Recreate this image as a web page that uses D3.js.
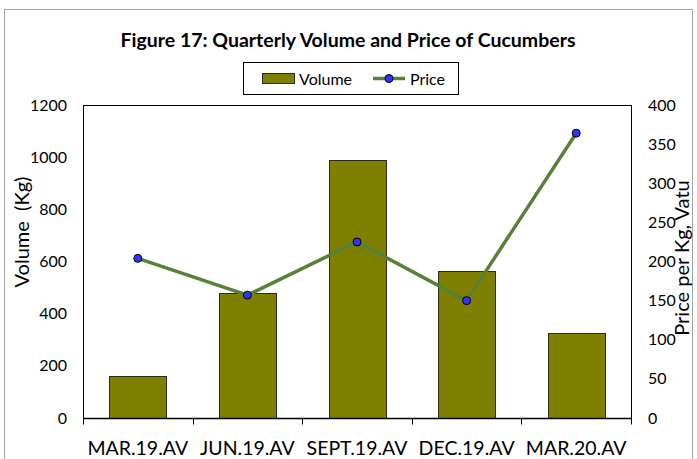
<!DOCTYPE html>
<html>
<head>
<meta charset="utf-8">
<script src="https://cdn.jsdelivr.net/npm/d3@7"></script>
<style>
	body { margin: 0; background: #fff; }
	text { font-family: Lato, "Open Sans", sans-serif; fill: #000; white-space: pre; }
	.chartTitle { font-weight: bold; font-size: 19.5px; }
	.tickText { font-size: 16px; }
	.catText { font-size: 19.5px; }
	.axisTitle { font-size: 20px; }
	.legendText { font-size: 16px; }
</style>
</head>
<body>
<div id="chart"><svg width="697" height="459"></svg></div>
<script>
// data
const categories = ["MAR.19.AV", "JUN.19.AV", "SEPT.19.AV", "DEC.19.AV", "MAR.20.AV"];
const volume = [160, 481, 990, 562, 325];
const price = [204, 157, 225, 150, 364];
const volumeTicks = [0, 200, 400, 600, 800, 1000, 1200];
const priceTicks = [0, 50, 100, 150, 200, 250, 300, 350, 400];

const data = categories.map((c, i) => ({cat: c, volume: volume[i], price: price[i]}));

// setup
const width = 697;
const height = 459;
const margin = {top: 105, right: 66, bottom: 40, left: 83};
const plotWidth = width - margin.left - margin.right;
const plotHeight = height - margin.top - margin.bottom - 1;

const svg = d3.select("#chart").select("svg");

// outer chart border
svg.append("rect")
	.attr("x", 4.5).attr("y", 9.5)
	.attr("width", 688).attr("height", 460)
	.attr("fill", "none")
	.attr("stroke", "#a6a6a6");

// scales
const xScale = d3.scaleBand()
	.domain(categories)
	.range([0, plotWidth])
	.paddingInner(0.48)
	.paddingOuter(0.24);

const yScale = d3.scaleLinear()
	.domain([0, 1200])
	.range([plotHeight, 0]);

const y2Scale = d3.scaleLinear()
	.domain([0, 400])
	.range([plotHeight, 0]);

const plot = svg.append("g")
	.attr("transform", `translate(${margin.left}, ${margin.top})`);

// plot frame
plot.append("rect")
	.attr("x", 0.5).attr("y", 0.5)
	.attr("width", plotWidth).attr("height", plotHeight)
	.attr("fill", "none")
	.attr("stroke", "#000");

// bars
plot.selectAll(".bar")
  .data(data)
	.enter()
  .append("rect")
	.attr("class", "bar")
	.attr("x", d => Math.round(xScale(d.cat)) + 0.5)
	.attr("y", d => Math.round(yScale(d.volume)) + 0.5)
	.attr("width", xScale.bandwidth())
	.attr("height", d => plotHeight - Math.round(yScale(d.volume)))
	.attr("fill", "#808000")
	.attr("stroke", "#2b2b1a");

// x axis (ticks between categories)
const xAxis = plot.append("g")
	.attr("transform", `translate(0, ${plotHeight + 0.5})`);

xAxis.append("line")
	.attr("x1", 0).attr("x2", plotWidth + 1)
	.attr("stroke", "#000").attr("stroke-width", 1.5);

xAxis.selectAll(".xTick")
  .data(d3.range(categories.length + 1))
	.enter()
  .append("line")
	.attr("x1", i => Math.round(i * plotWidth / categories.length) + 0.5)
	.attr("x2", i => Math.round(i * plotWidth / categories.length) + 0.5)
	.attr("y1", 0).attr("y2", 6)
	.attr("stroke", "#000");

xAxis.selectAll(".catText")
  .data(categories)
	.enter()
  .append("text")
	.attr("class", "catText")
	.attr("x", d => xScale(d) + xScale.bandwidth() / 2)
	.attr("y", 36)
	.attr("text-anchor", "middle")
	.text(d => d);

// left axis labels
plot.selectAll(".yTick")
  .data(volumeTicks)
	.enter()
  .append("text")
	.attr("class", "tickText")
	.attr("x", -16)
	.attr("y", d => yScale(d))
	.attr("dy", "0.35em")
	.attr("text-anchor", "end")
	.text(d => d);

// right axis labels
plot.selectAll(".y2Tick")
  .data(priceTicks)
	.enter()
  .append("text")
	.attr("class", "tickText")
	.attr("x", plotWidth + 17)
	.attr("y", d => y2Scale(d))
	.attr("dy", "0.35em")
	.attr("text-anchor", "start")
	.text(d => d);

// axis titles
svg.append("text")
	.attr("class", "axisTitle")
	.attr("transform", `translate(29, 232) rotate(-90)`)
	.attr("text-anchor", "middle")
	.text("Volume  (Kg)");

svg.append("text")
	.attr("class", "axisTitle")
	.attr("transform", `translate(689, 258) rotate(-90)`)
	.attr("text-anchor", "middle")
	.text("Price per Kg, Vatu");

// price line
const line = d3.line()
	.x(d => xScale(d.cat) + xScale.bandwidth() / 2)
	.y(d => y2Scale(d.price));

plot.append("path")
  .datum(data)
	.attr("fill", "none")
	.attr("stroke", "#568237")
	.attr("stroke-width", 3.5)
	.attr("stroke-linejoin", "round")
	.attr("d", line);

plot.selectAll(".dot")
  .data(data)
	.enter()
  .append("circle")
	.attr("cx", d => xScale(d.cat) + xScale.bandwidth() / 2)
	.attr("cy", d => y2Scale(d.price))
	.attr("r", 4)
	.attr("fill", "#3333ff")
	.attr("stroke", "#000")
	.attr("stroke-width", 1);

// title
svg.append("text")
	.attr("class", "chartTitle")
	.attr("x", 348)
	.attr("y", 47)
	.attr("text-anchor", "middle")
	.text("Figure 17: Quarterly Volume and Price of Cucumbers");

// legend
const legend = svg.append("g").attr("transform", "translate(243, 62)");

legend.append("rect")
	.attr("x", 0.5).attr("y", 0.5)
	.attr("width", 215).attr("height", 32)
	.attr("fill", "#fff")
	.attr("stroke", "#000");

legend.append("rect")
	.attr("x", 19.5).attr("y", 11.5)
	.attr("width", 32).attr("height", 10)
	.attr("fill", "#808000")
	.attr("stroke", "#2b2b1a");

legend.append("text")
	.attr("class", "legendText")
	.attr("x", 56).attr("y", 17)
	.attr("dy", "0.35em")
	.text("Volume");

legend.append("line")
	.attr("x1", 130).attr("x2", 162)
	.attr("y1", 16.5).attr("y2", 16.5)
	.attr("stroke", "#568237")
	.attr("stroke-width", 3.5);

legend.append("circle")
	.attr("cx", 146).attr("cy", 16.5)
	.attr("r", 4)
	.attr("fill", "#3333ff")
	.attr("stroke", "#000");

legend.append("text")
	.attr("class", "legendText")
	.attr("x", 167).attr("y", 17)
	.attr("dy", "0.35em")
	.text("Price");
</script>
</body>
</html>
